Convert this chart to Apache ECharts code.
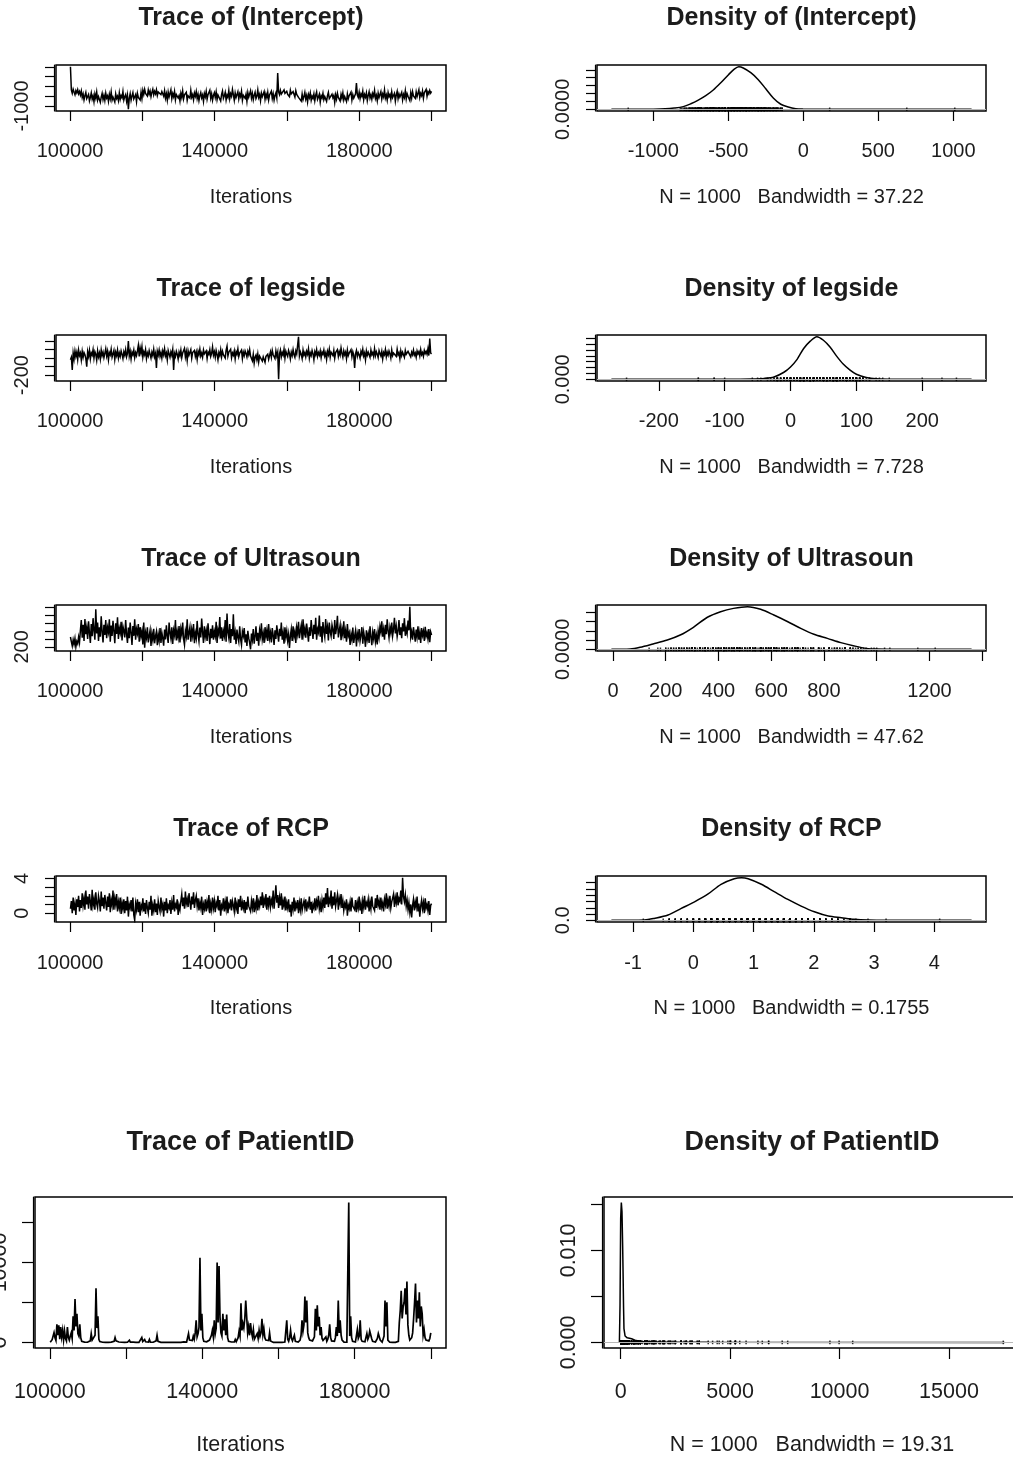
<!DOCTYPE html>
<html>
<head>
<meta charset="utf-8">
<script src="https://cdn.jsdelivr.net/npm/echarts@6/dist/echarts.min.js"></script>
<style>
  html, body { margin: 0; padding: 0; background: #ffffff; }
  #chart { width: 1013px; height: 1461px; }
</style>
</head>
<body>
<div id="chart"></div>
<script>
// ---- MCMC output: thinned draws of each parameter, iterations 100100 .. 200000 ----
const iterFirst = 100100;
const iterLast = 200000;
const sampleCount = 1000;

const paramNames = ['(Intercept)', 'legside', 'Ultrasoun', 'RCP', 'PatientID'];
const bandwidths = ['37.22', '7.728', '47.62', '0.1755', '19.31'];

const interceptTrace = [
  1010, -180, -350, -140, -290, -420, -210, -330, -160, -380, -260, -440, -230, -560, -380, -690, -470, -300, -620, -520,
  -410, -740, -560, -330, -650, -480, -780, -390, -600, -290, -700, -520, -430, -810, -550, -360, -670, -460, -720, -340,
  -590, -480, -760, -400, -630, -280, -700, -540, -450, -790, -380, -610, -500, -720, -330, -660, -470, -580, -260, -690,
  -520, -410, -750, -460, -1167, -600, -370, -700, -490, -310, -640, -530, -420, -780, -350, -560, -480, -690, -300, -620,
  -200, -410, -150, -360, -270, -490, -180, -390, -230, -520, -300, -140, -430, -250, -380, -170, -460, -280, -350, -190,
  -420, -260, -330, -500, -220, -600, -380, -700, -290, -540, -450, -170, -620, -360, -520, -250, -680, -410, -310, -590,
  -470, -740, -350, -560, -230, -640, -430, -520, -300, -710, -480, -380, -600, -200, -550, -420, -680, -330, -500, -260,
  -620, -400, -720, -470, -310, -580, -440, -760, -360, -530, -250, -650, -420, -490, -190, -600, -380, -700, -460, -320,
  -560, -280, -670, -430, -520, -350, -740, -410, -230, -610, -480, -300, -690, -440, -560, -210, -630, -370, -500, -150,
  -420, -700, -330, -560, -460, -270, -640, -380, -520, -240, -710, -450, -350, -600, -400, -760, -310, -540, -470, -220,
  -590, -360, -680, -440, -290, -620, -500, -180, -560, -410, -730, -340, -520, -450, -260, -650, -380, -570, -300, -690,
  -430, -520, -240, -610, -370, -700, -460, -330, -580, 690, -280, -420, -200, -390, -310, -470, -170, -360, -440, -250,
  -400, -300, -520, -190, -380, -460, -260, -350, -540, -220, -410, -330, -560, -620, -480, -750, -390, -680, -520, -300,
  -640, -460, -790, -410, -570, -330, -700, -500, -610, -380, -730, -450, -280, -660, -540, -400, -800, -480, -590, -350,
  -680, -520, -420, -760, -470, -300, -620, -540, -710, -390, -580, -460, -820, -430, -650, -350, -560, -490, -740, -400,
  -600, -330, -690, -510, -450, -770, -380, -630, -470, -560, -290, -700, -420, -600, -520, -370, 176, -440, -560, -300,
  -620, -380, -500, -240, -680, -410, -550, -330, -720, -460, -270, -590, -420, -650, -360, -500, -200, -610, -450, -730,
  -340, -560, -470, -260, -640, -390, -530, -180, -600, -440, -700, -310, -520, -410, -660, -280, -570, -480, -350, -750,
  -430, -250, -620, -380, -540, -460, -300, -690, -410, -560, -220, -640, -370, -500, -440, -720, -320, -590, -260, -480,
  -390, -610, -280, -520, -430, -170, -560, -350, -470, -230, -600, -320, -410, -150, -500, -270, -380, -200, -340, -250
];

const legsideTrace = [
  -20, 10, -140, 60, -10, 85, 20, 70, -15, 95, 30, 60, -20, 80, 10, 65, 40, -5, -100, 75,
  20, 90, -10, 60, 35, 100, 0, 75, 45, -25, 85, 15, 60, -10, 95, 30, 70, 5, 55, 110,
  25, 80, -20, 65, 40, 105, 10, 50, 90, -15, 70, 30, 95, 0, 60, 20, 85, 45, -5, 75,
  35, 100, 15, 55, 200, 25, 80, -10, 70, 40, 95, 5, 65, 30, 85, 150, 20, 120, 60, 135,
  10, 75, 40, 100, -5, 60, 25, 90, 45, 0, 70, 30, 105, 15, 55, -116, 80, 35, 95, 20,
  65, 0, 85, 40, 110, 25, 60, -20, 90, 50, 10, 75, 35, 100, -140, 55, 20, 80, 45, -10,
  70, 30, 95, 5, 60, 40, 115, 15, 75, -25, 85, 35, 55, 100, 0, 65, 45, 90, 20, 70,
  -15, 80, 40, 105, 25, 60, 10, 95, 50, 30, 85, -5, 70, 45, 100, 20, 55, 130, 35, 75,
  10, 90, 45, -20, 65, 30, 100, 15, 80, 40, 60, 0, 95, 140, 25, 70, 50, 105, 5, 60,
  35, 85, -10, 75, 45, 110, 20, 60, 40, 95, -5, 70, 30, 85, 55, 15, 80, 40, 100, 25,
  20, -30, 45, -58, 10, 35, -20, 50, -45, 25, 5, 40, -35, 15, 30, -50, 20, 0, 45, -15,
  30, 75, 10, 90, 40, 60, -5, 85, 25, 70, -249, 50, 95, 15, 65, 35, 105, 0, 80, 45,
  20, 90, 55, -10, 70, 30, 100, 40, 10, 85, 50, 60, 252, 25, 75, 45, -5, 95, 35, 65,
  15, 80, 45, 110, 0, 60, 30, 90, 50, -20, 75, 40, 100, 20, 65, 35, 85, 5, 70, 45,
  95, 25, 60, -15, 80, 40, 105, 10, 70, 50, 30, 90, 0, 65, 45, 100, 20, 75, 35, 120,
  55, 10, 85, 40, 70, -5, 95, 30, 60, 45, 100, 15, 75, 35, -116, 50, 90, 20, 65, 40,
  0, 80, 45, 105, 25, 60, -20, 85, 35, 70, 50, 10, 95, 40, 65, 20, 110, 30, 75, 45,
  5, 90, 55, 25, 80, -10, 65, 40, 100, 15, 70, 35, 85, 50, 0, 95, 30, 60, 45, 75,
  20, 105, 40, 65, -5, 85, 30, 70, 55, 10, 90, 45, 25, 80, 60, 100, 15, 70, 40, 95,
  35, 60, 10, 85, 50, 75, 25, 100, 40, 65, 20, 90, 55, 80, 45, 110, 30, 230, 60, 50
];

const ultrasounTrace = [
  450, 330, 220, 380, 260, 410, 200, 340, 280, 450, 310, 620, 880, 430, 760, 350, 910, 520, 690, 400,
  850, 560, 300, 780, 470, 930, 620, 380, 1156, 540, 820, 350, 700, 460, 980, 590, 310, 760, 500, 880,
  420, 690, 570, 900, 330, 740, 480, 860, 610, 290, 800, 530, 950, 400, 670, 560, 840, 360, 720, 610,
  440, 880, 520, 300, 690, 420, 820, 560, 250, 730, 480, 900, 380, 650, 540, 780, 330, 700, 470, 600,
  260, 820, 180, 560, 430, 700, 310, 480, 620, 220, 540, 380, 660, 290, 470, 590, 240, 510, 350, 680,
  300, 560, 420, 230, 640, 390, 750, 480, 300, 820, 560, 410, 700, 270, 620, 500, 880, 360, 590, 440,
  730, 310, 660, 520, 820, 400, 250, 600, 470, 900, 380, 560, 700, 330, 640, 480, 780, 290, 550, 420,
  860, 510, 340, 690, 440, 920, 580, 300, 720, 460, 610, 350, 800, 520, 270, 660, 420, 750, 380, 590,
  470, 840, 300, 630, 520, 960, 410, 700, 350, 600, 480, 880, 330, 1050, 560, 420, 780, 300, 650, 470,
  1030, 380, 560, 270, 640, 450, 330, 720, 400, 250, 590, 480, 680, 310, 520, 220, 610, 420, 300, 137,
  540, 380, 650, 280, 470, 720, 350, 560, 230, 620, 480, 800, 390, 540, 300, 700, 460, 620, 350, 780,
  420, 560, 310, 680, 490, 250, 620, 400, 750, 530, 330, 660, 470, 820, 380, 560, 280, 700, 450, 610,
  360, 520, 170, 480, 650, 350, 720, 460, 590, 300, 690, 530, 840, 420, 610, 750, 380, 900, 520, 660,
  430, 790, 560, 330, 700, 480, 880, 610, 400, 760, 520, 940, 380, 650, 570, 1000, 460, 720, 310, 830,
  600, 450, 910, 530, 700, 360, 820, 580, 470, 760, 630, 400, 880, 520, 690, 990, 440, 610, 750, 370,
  660, 510, 850, 420, 600, 330, 780, 480, 560, 250, 520, 380, 690, 300, 470, 610, 210, 540, 420, 650,
  350, 500, 700, 280, 580, 430, 200, 620, 390, 530, 300, 720, 460, 240, 570, 410, 650, 330, 490, 260,
  600, 440, 720, 580, 850, 460, 640, 380, 760, 520, 900, 610, 430, 700, 560, 820, 480, 650, 940, 540,
  720, 460, 610, 880, 500, 700, 420, 800, 590, 930, 480, 660, 540, 870, 620, 1222, 450, 580, 380, 700,
  520, 330, 640, 450, 720, 380, 560, 300, 680, 490, 600, 350, 710, 470, 560, 400, 650, 320, 580, 500
];

const rcpTrace = [
  0.5, 1.4, 0.0, 1.8, 0.3, 1.1, -0.2, 1.6, 0.7, 2.0, 0.2, 1.5, 0.6, 2.3, 0.9, 1.7, 0.4, 2.6, 1.0, 1.9,
  0.5, 2.2, 1.3, 0.3, 2.7, 0.9, 1.6, 0.4, 2.4, 1.1, 0.6, 2.0, 1.4, 0.2, 2.5, 0.8, 1.8, 0.5, 2.1, 1.2,
  0.3, 1.9, 0.7, 2.3, 0.1, 1.5, 0.9, 2.6, 0.4, 1.7, 1.0, 2.2, 0.2, 1.3, 0.6, 1.8, -0.1, 1.2, 0.5, 1.6,
  0.0, 1.4, 0.3, 1.9, -0.4, 1.0, 0.6, 1.5, 0.2, 1.8, -0.2, -0.83, 1.1, 0.4, 1.6, 0.1, 1.3, -0.3, 0.9, 0.5,
  1.7, 0.2, 1.2, -0.1, 1.5, 0.6, 0.0, 1.3, 0.4, 2.0, -0.3, 0.9, 0.3, 1.6, 0.1, 1.1, -0.2, 1.4, 0.7, 0.2,
  1.8, 0.5, 1.0, -0.4, 1.3, 0.3, 1.7, 0.0, 0.9, 0.6, 1.5, -0.1, 1.2, 0.4, 2.1, 0.2, 1.0, 0.7, 1.6, -0.2,
  0.9, 0.4, 1.4, 2.2, 0.8, 1.8, 0.5, 2.5, 1.1, 1.6, 0.7, 2.3, 1.3, 0.4, 1.9, 1.0, 2.4, 0.6, 1.5, 2.0,
  0.8, 1.7, 0.3, 1.2, 0.6, 1.9, -0.2, 1.0, 0.5, 1.6, 0.2, 1.3, 0.7, 2.1, 0.0, 1.1, 0.4, 1.8, 0.6, 1.4,
  0.1, 1.2, 0.8, 2.0, 0.3, 1.5, -0.3, 0.9, 0.6, 1.7, 0.2, 1.3, 0.5, 1.9, 0.0, 1.0, 0.7, 1.6, 0.3, 1.4,
  0.9, 0.2, 1.8, 0.5, 1.1, -0.1, 1.6, 0.7, 2.0, 0.3, 1.2, 0.6, 1.5, 0.0, 1.3, 0.4, 1.9, 0.8, 1.0, 0.2,
  1.4, 0.6, 1.7, 0.1, 1.1, 0.5, 2.1, 0.3, 1.3, 0.8, 1.9, 0.9, 2.4, 0.6, 1.6, 1.1, 2.2, 0.4, 1.8, 0.9,
  2.0, 0.7, 1.5, 1.0, 2.6, 0.5, 1.7, 3.2, 1.2, 2.1, 0.6, 1.8, 0.9, 2.3, 0.4, 1.4, 0.8, 1.9, 0.3, 1.2,
  0.6, 1.6, 0.1, 1.0, -0.4, 1.3, 0.5, 1.8, 0.2, 1.1, 0.7, 1.5, 0.0, 1.2, 0.4, 1.7, 0.3, 0.9, 1.4, 0.6,
  1.6, 0.2, 1.1, 0.8, 1.9, 0.4, 1.3, 0.0, 1.0, 0.6, 1.7, 0.3, 1.4, 0.9, 2.0, 0.5, 1.2, 0.1, 1.5, 0.7,
  1.8, 0.6, 2.3, 1.0, 2.9, 0.7, 1.6, 1.2, 2.6, 0.5, 1.9, 0.9, 2.4, 0.8, 1.5, 2.1, 0.4, 1.7, 1.1, 2.2,
  0.6, 1.4, 0.3, 1.1, 0.7, 1.6, -0.3, 0.9, 0.5, 1.3, 0.2, 1.8, 0.8, 1.0, 0.4, 1.5, 0.1, 1.2, 0.6, 1.9,
  0.3, 1.1, -0.1, 1.4, 0.7, 2.0, 0.4, 1.2, 0.9, 1.6, 0.2, 1.3, 0.5, 1.9, 0.8, 1.0, 0.3, 1.7, 0.6, 2.1,
  0.9, 1.4, 0.4, 1.8, 0.7, 1.2, 0.2, 1.6, 1.0, 2.3, 0.5, 1.5, 0.8, 2.0, 0.6, 1.3, 1.1, 2.2, 0.7, 1.8,
  1.2, 2.4, 0.9, 1.7, 1.4, 2.6, 1.0, 4.09, 1.9, 1.3, 2.1, 0.8, 1.5, 0.4, 1.2, 0.1, 1.0, -0.5, 0.9, 1.6,
  0.3, 1.3, 0.7, 1.9, 0.2, 1.1, -0.4, 0.8, 1.5, 0.5, 1.2, 0.0, 1.7, 0.6, 1.0, 0.3, 1.4, -0.2, 0.9, 1.1
];

const patientIdTrace = [
  30, 80, 350, 120, 1240, 600, 250, 2270, 900, 2140, 400, 1940, 700, 1530, 300, 1440, 500, 200, 1940, 650,
  300, 800, 1200, 500, 3260, 1500, 5440, 2000, 3590, 1100, 800, 2270, 600, 150, 60, 20, 40, 10, 70, 30,
  20, 50, 200, 1110, 300, 80, 150, 900, 6760, 1800, 3260, 400, 120, 40, 15, 30, 60, 20, 10, 40,
  25, 10, 35, 15, 50, 20, 10, 150, 620, 200, 80, 370, 60, 20, 10, 30, 15, 25, 10, 20,
  15, 30, 60, 290, 40, 10, 20, 35, 15, 10, 25, 40, 15, 20, 50, 180, 620, 120, 60, 370,
  90, 30, 150, 60, 370, 40, 20, 10, 30, 15, 25, 200, 900, 150, 30, 15, 10, 20, 35, 15,
  10, 25, 15, 30, 20, 10, 15, 35, 20, 10, 25, 15, 30, 10, 20, 40, 15, 25, 60, 30,
  80, 290, 120, 60, 200, 1110, 300, 150, 500, 250, 800, 400, 1200, 2760, 700, 1110, 1900, 10600, 1500, 3590,
  600, 150, 60, 30, 80, 40, 120, 300, 500, 900, 1530, 700, 2760, 1100, 1800, 9980, 2500, 9560, 3170, 1200,
  800, 3590, 1500, 2900, 900, 3500, 600, 150, 40, 20, 60, 30, 120, 60, 370, 100, 250, 600, 1400, 800,
  4900, 1500, 2350, 1800, 3000, 5240, 3170, 1200, 2000, 900, 2430, 1300, 700, 1600, 400, 200, 600, 1110, 500, 1530,
  800, 1200, 2970, 1000, 1730, 600, 300, 150, 60, 250, 1200, 200, 50, 20, 10, 30, 15, 20, 10, 25,
  15, 30, 10, 20, 40, 15, 60, 300, 2760, 400, 150, 600, 1530, 500, 200, 350, 900, 150, 60, 370,
  50, 20, 300, 900, 2760, 1400, 2200, 5730, 2500, 5240, 1200, 600, 300, 150, 60, 200, 120, 700, 4200, 1500,
  4660, 2000, 3200, 900, 1940, 500, 250, 120, 300, 700, 150, 400, 900, 2270, 600, 200, 100, 350, 150, 600,
  1940, 800, 5240, 1200, 2760, 900, 300, 100, 40, 20, 60, 30, 150, 17480, 800, 3260, 600, 150, 40, 20,
  60, 300, 1610, 500, 800, 2760, 400, 150, 40, 20, 100, 300, 1110, 400, 700, 1440, 1440, 500, 150, 40,
  20, 60, 200, 500, 1110, 1320, 300, 100, 40, 20, 800, 5240, 2000, 5030, 300, 80, 30, 15, 40, 20,
  10, 30, 15, 25, 60, 150, 2500, 4000, 6470, 3000, 4410, 5000, 6760, 3500, 7630, 2200, 900, 300, 150, 600,
  1200, 3000, 5000, 7380, 2500, 5240, 3000, 6270, 2000, 4500, 3590, 900, 1610, 600, 300, 150, 60, 200, 500, 1200
];

// ---- Kernel density estimates (x grid and density) ----
const interceptDensX = [-1279, -1000, -920, -860, -800, -750, -700, -650, -600, -550, -500, -460, -430, -400, -350, -300, -250, -200, -150, -100, -50, 0, 60, 1122];
const interceptDensY = [0, 0.00001, 0.00003, 0.00008, 0.00017, 0.00035, 0.00058, 0.00086, 0.00122, 0.00168, 0.00218, 0.00255, 0.0027, 0.00262, 0.00232, 0.00188, 0.0013, 0.00072, 0.00032, 0.00014, 0.00004, 0.00001, 0, 0];

const legsideDensX = [-272, -100, -60, -40, -25, -10, 0, 10, 20, 30, 40, 50, 60, 70, 80, 90, 100, 115, 130, 160, 275];
const legsideDensY = [0, 0.00003, 0.0001, 0.0003, 0.0008, 0.0024, 0.0042, 0.0068, 0.0105, 0.013, 0.0145, 0.0133, 0.011, 0.0079, 0.0052, 0.0032, 0.0017, 0.0006, 0.0002, 0.00003, 0];

const ultrasounDensX = [-6, 65, 103, 152, 206, 255, 305, 358, 408, 457, 510, 560, 610, 663, 712, 762, 813, 864, 915, 960, 1000, 1100, 1360];
const ultrasounDensY = [0, 0.00002, 0.00011, 0.00029, 0.0005, 0.00077, 0.00119, 0.00173, 0.00203, 0.00221, 0.0023, 0.00216, 0.00185, 0.00149, 0.00113, 0.00081, 0.00059, 0.00036, 0.00018, 0.00005, 0.00001, 0, 0];

const rcpDensX = [-1.36, -0.81, -0.65, -0.42, -0.2, 0.02, 0.24, 0.46, 0.68, 0.8, 0.91, 1.13, 1.35, 1.57, 1.79, 2.01, 2.24, 2.46, 2.67, 2.9, 3.2, 4.62];
const rcpDensY = [0, 0.005, 0.03, 0.084, 0.19, 0.295, 0.416, 0.575, 0.664, 0.68, 0.664, 0.575, 0.453, 0.333, 0.227, 0.136, 0.068, 0.041, 0.016, 0.004, 0, 0];

const patientIdDensX = [-58, -30, 0, 30, 60, 90, 110, 130, 150, 200, 300, 500, 700, 1000, 2000, 4000, 17540];
const patientIdDensY = [0, 0.004, 0.0135, 0.0152, 0.0142, 0.0105, 0.0075, 0.004, 0.0015, 0.0007, 0.0005, 0.0004, 0.0002, 0.0001, 0.00003, 0.00001, 0];

// ---- Tick positions and the subset of ticks that carry a label ----
const iterTicks = [100000, 120000, 140000, 160000, 180000, 200000];
const iterTickLabels = [100000, 140000, 180000];

const interceptYTicks = [-1000, -500, 0, 500, 1000];
const interceptYLabels = [-1000];
const legsideYTicks = [-200, -100, 0, 100, 200];
const legsideYLabels = [-200];
const ultrasounYTicks = [200, 400, 600, 800, 1000, 1200];
const ultrasounYLabels = [200];
const rcpYTicks = [0, 1, 2, 3, 4];
const rcpYLabels = [0, 4];
const patientIdYTicks = [0, 5000, 10000, 15000];
const patientIdYLabels = [0, 10000];

const interceptDensXTicks = [-1000, -500, 0, 500, 1000];
const interceptDensXLabels = [-1000, -500, 0, 500, 1000];
const legsideDensXTicks = [-200, -100, 0, 100, 200];
const legsideDensXLabels = [-200, -100, 0, 100, 200];
const ultrasounDensXTicks = [0, 200, 400, 600, 800, 1000, 1200, 1400];
const ultrasounDensXLabels = [0, 200, 400, 600, 800, 1200];
const rcpDensXTicks = [-1, 0, 1, 2, 3, 4];
const rcpDensXLabels = [-1, 0, 1, 2, 3, 4];
const patientIdDensXTicks = [0, 5000, 10000, 15000];
const patientIdDensXLabels = [0, 5000, 10000, 15000];

const interceptDensYTicks = [0, 0.0005, 0.001, 0.0015, 0.002, 0.0025];
const interceptDensYLabels = [0];
const legsideDensYTicks = [0, 0.002, 0.004, 0.006, 0.008, 0.01, 0.012, 0.014];
const legsideDensYLabels = [0];
const ultrasounDensYTicks = [0, 0.0005, 0.001, 0.0015, 0.002];
const ultrasounDensYLabels = [0];
const rcpDensYTicks = [0, 0.1, 0.2, 0.3, 0.4, 0.5, 0.6];
const rcpDensYLabels = [0];
const patientIdDensYTicks = [0, 0.005, 0.01, 0.015];
const patientIdDensYLabels = [0, 0.01];
const densYDigits = [4, 3, 4, 1, 3];

// ---- one record per parameter, assembled from the arrays above ----
const panels = [
  { trace: interceptTrace, densX: interceptDensX, densY: interceptDensY,
    yTicks: interceptYTicks, yLabels: interceptYLabels,
    dxTicks: interceptDensXTicks, dxLabels: interceptDensXLabels,
    dyTicks: interceptDensYTicks, dyLabels: interceptDensYLabels },
  { trace: legsideTrace, densX: legsideDensX, densY: legsideDensY,
    yTicks: legsideYTicks, yLabels: legsideYLabels,
    dxTicks: legsideDensXTicks, dxLabels: legsideDensXLabels,
    dyTicks: legsideDensYTicks, dyLabels: legsideDensYLabels },
  { trace: ultrasounTrace, densX: ultrasounDensX, densY: ultrasounDensY,
    yTicks: ultrasounYTicks, yLabels: ultrasounYLabels,
    dxTicks: ultrasounDensXTicks, dxLabels: ultrasounDensXLabels,
    dyTicks: ultrasounDensYTicks, dyLabels: ultrasounDensYLabels },
  { trace: rcpTrace, densX: rcpDensX, densY: rcpDensY,
    yTicks: rcpYTicks, yLabels: rcpYLabels,
    dxTicks: rcpDensXTicks, dxLabels: rcpDensXLabels,
    dyTicks: rcpDensYTicks, dyLabels: rcpDensYLabels },
  { trace: patientIdTrace, densX: patientIdDensX, densY: patientIdDensY,
    yTicks: patientIdYTicks, yLabels: patientIdYLabels,
    dxTicks: patientIdDensXTicks, dxLabels: patientIdDensXLabels,
    dyTicks: patientIdDensYTicks, dyLabels: patientIdDensYLabels }
];

// ---- page layout (pixels) ----
const rowLayout = [
  { top: 65,   height: 46,  traceLeft: 56, traceWidth: 390, densLeft: 597, densWidth: 389, titleY: 18,     font: 20,   titleFont: 25, tickLen: 10, yTickLen: 9,  labelMargin: 30, nameGap: 76, smooth: 0.3, traceLineW: 1.5 },
  { top: 335,  height: 46,  traceLeft: 56, traceWidth: 390, densLeft: 597, densWidth: 389, titleY: 289,    font: 20,   titleFont: 25, tickLen: 10, yTickLen: 9,  labelMargin: 30, nameGap: 76, smooth: 0.3, traceLineW: 1.5 },
  { top: 605,  height: 46,  traceLeft: 56, traceWidth: 390, densLeft: 597, densWidth: 389, titleY: 559,    font: 20,   titleFont: 25, tickLen: 10, yTickLen: 9,  labelMargin: 30, nameGap: 76, smooth: 0.3, traceLineW: 1.5 },
  { top: 876,  height: 46,  traceLeft: 56, traceWidth: 390, densLeft: 597, densWidth: 389, titleY: 829,    font: 20,   titleFont: 25, tickLen: 10, yTickLen: 9,  labelMargin: 31, nameGap: 76, smooth: 0.3, traceLineW: 1.5 },
  { top: 1197, height: 151, traceLeft: 35, traceWidth: 411, densLeft: 604, densWidth: 416, titleY: 1142.5, font: 21.5, titleFont: 27, tickLen: 11, yTickLen: 11, labelMargin: 33, nameGap: 86, smooth: false, traceLineW: 1.7 }
];

const FONT = '"Liberation Sans", Arial, Helvetica, sans-serif';
const INK = '#1c1c1c';

// R-style axis range: data range extended by 4% on each side
function padRange(values) {
  let lo = Infinity, hi = -Infinity;
  for (const v of values) { if (v < lo) lo = v; if (v > hi) hi = v; }
  const d = (hi - lo) * 0.04;
  return [lo - d, hi + d];
}

function makeX(gridIndex, range, ticks, labels, name, L) {
  return {
    type: 'value', gridIndex, min: range[0], max: range[1],
    splitLine: { show: false },
    axisLine: { show: false, onZero: false },
    axisTick: { show: true, length: L.tickLen, customValues: ticks, lineStyle: { color: '#000', width: 1.2 } },
    axisLabel: { customValues: labels, margin: L.labelMargin, formatter: v => String(v),
                 fontFamily: FONT, fontSize: L.font, color: INK },
    name, nameLocation: 'middle', nameGap: L.nameGap,
    nameTextStyle: { fontFamily: FONT, fontSize: L.font, color: INK }
  };
}

function makeY(gridIndex, range, ticks, labels, fmt, L) {
  return {
    type: 'value', gridIndex, min: range[0], max: range[1], offset: 2,
    splitLine: { show: false },
    axisLine: { show: true, onZero: false, lineStyle: { color: '#000', width: 1.2 } },
    axisTick: { show: true, length: L.yTickLen, customValues: ticks, lineStyle: { color: '#000', width: 1.2 } },
    axisLabel: { customValues: labels, rotate: 90, margin: 22, formatter: fmt,
                 fontFamily: FONT, fontSize: L.font, color: INK }
  };
}

function makeGrid(left, width, L) {
  return { left, top: L.top, width, height: L.height, show: true,
           borderColor: '#000', borderWidth: 1.5, backgroundColor: 'transparent',
           containLabel: false, outerBoundsMode: 'none' };
}

const grid = [], xAxis = [], yAxis = [], series = [], title = [];

panels.forEach((p, k) => {
  const L = rowLayout[k];
  const titleStyle = { fontFamily: FONT, fontSize: L.titleFont, fontWeight: 'bold', color: INK };

  // --- trace plot ---
  const gt = grid.length;
  grid.push(makeGrid(L.traceLeft, L.traceWidth, L));
  const n = p.trace.length;
  const step = (iterLast - iterFirst) / (n - 1);
  xAxis.push(makeX(gt, padRange([iterFirst, iterLast]), iterTicks, iterTickLabels, 'Iterations', L));
  yAxis.push(makeY(gt, padRange(p.trace), p.yTicks, p.yLabels, v => String(v), L));
  series.push({
    type: 'line', xAxisIndex: gt, yAxisIndex: gt,
    data: p.trace.map((v, i) => [iterFirst + i * step, v]),
    symbol: 'none', showSymbol: false, silent: true,
    lineStyle: { color: '#000', width: L.traceLineW, join: 'miter' }
  });
  title.push({ text: 'Trace of ' + paramNames[k], left: L.traceLeft + L.traceWidth / 2, top: L.titleY,
               textAlign: 'center', textVerticalAlign: 'middle', padding: 0, textStyle: titleStyle });

  // --- density plot ---
  const gd = grid.length;
  grid.push(makeGrid(L.densLeft, L.densWidth, L));
  const digits = densYDigits[k];
  xAxis.push(makeX(gd, padRange(p.densX), p.dxTicks, p.dxLabels,
                   'N = ' + sampleCount + '   Bandwidth = ' + bandwidths[k], L));
  yAxis.push(makeY(gd, padRange(p.densY), p.dyTicks, p.dyLabels, v => Number(v).toFixed(digits), L));
  series.push({
    type: 'line', xAxisIndex: gd, yAxisIndex: gd,
    data: p.densX.map((x, i) => [x, p.densY[i]]),
    smooth: L.smooth, symbol: 'none', showSymbol: false, silent: true,
    lineStyle: { color: '#000', width: 1.5 },
    markLine: {
      silent: true, symbol: ['none', 'none'], label: { show: false },
      lineStyle: { color: '#b8b8b8', width: 1, type: 'solid' },
      data: [{ yAxis: 0 }]
    }
  });
  // observations marked along the zero line
  series.push({
    type: 'scatter', xAxisIndex: gd, yAxisIndex: gd,
    data: p.trace.map(v => [v, 0]),
    symbol: 'rect', symbolSize: [1.5, 3.6], silent: true,
    itemStyle: { color: '#000' }
  });
  title.push({ text: 'Density of ' + paramNames[k], left: L.densLeft + L.densWidth / 2, top: L.titleY,
               textAlign: 'center', textVerticalAlign: 'middle', padding: 0, textStyle: titleStyle });
});

const chart = echarts.init(document.getElementById('chart'), null, { renderer: 'canvas' });
chart.setOption({
  backgroundColor: '#ffffff',
  animation: false,
  title, grid, xAxis, yAxis, series
});
</script>
</body>
</html>
